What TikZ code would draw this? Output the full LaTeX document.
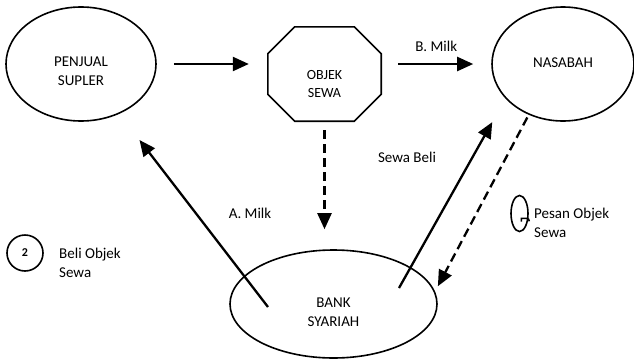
\documentclass[tikz,border=0pt]{standalone}
\usepackage{fontspec}
\setmainfont{Carlito}
\usepackage{tikz}
\usetikzlibrary{shapes.geometric, arrows.meta, calc}
\tikzstyle{line} = [draw, -{Triangle[length=16pt,width=14pt]}, line width=2.3pt]
\tikzstyle{dline} = [line, dash pattern=on 9pt off 5pt]
\tikzstyle{party} = [ellipse, draw, line width=1.6pt, inner sep=0pt]
\tikzstyle{txt} = [align=center, inner sep=0pt, font=\fontsize{15}{19}\selectfont]

\begin{document}
\begin{tikzpicture}[x=1pt, y=1pt, auto]
        \useasboundingbox (0,0) rectangle (634,360);

        \node [party, minimum width=150pt, minimum height=114pt,
               label={[txt, name=pentxt, yshift=-7pt]center:PENJUAL\\SUPLER}] (pen) at (81,296) {};
        \node [rectangle, minimum width=113pt, minimum height=94pt, inner sep=0pt,
               label={[txt, name=objektxt, yshift=-10pt, font=\fontsize{14}{18}\selectfont]center:OBJEK\\SEWA}] (objek) at (324.5,286) {};
        \node [party, minimum width=142pt, minimum height=114pt,
               label={[txt, name=nastxt, yshift=1pt]center:NASABAH}] (nas) at (563,296) {};
        \node [party, minimum width=207pt, minimum height=108pt,
               label={[txt, name=banktxt, yshift=-8pt]center:BANK\\SYARIAH}] (bank) at (333.5,56) {};

        % octagon round OBJEK SEWA
        \draw [line width=1.6pt, line join=miter]
            ($(objek.north west)+(27,0)$) -- ($(objek.north east)+(-27,0)$) -- ($(objek.north east)+(0,-27)$)
            -- ($(objek.south east)+(0,27)$) -- ($(objek.south east)+(-27,0)$) -- ($(objek.south west)+(27,0)$)
            -- ($(objek.south west)+(0,27)$) -- ($(objek.north west)+(0,-27)$) -- cycle;

        % free ends inside the bank
        \coordinate (amilk) at (268,53);
        \coordinate (sbeli) at (399,72);

        \path [line, shorten <=17pt, shorten >=19pt] (pen.east) -- (pen.east -| objek.west);
        \path [line, shorten <=17pt, shorten >=18pt] (objek.east |- nas.west) -- node[above=8pt] {\fontsize{15}{19}\selectfont B. Milk} (nas.west);
        \path [dline, shorten <=9pt, shorten >=20pt] (objek.south) -- (objek.south |- bank.north);
        \path [line, shorten >=33pt] (amilk) -- (pen);
        \path [line, shorten >=27pt] (sbeli) -- (nas.211);
        \path [dline, shorten <=3pt, shorten >=6pt] (nas.236) -- (bank.7);

        \node [txt] (amilktxt) at (250,147) {A. Milk};
        \node [txt] (sbelitxt) at (407,203) {Sewa Beli};

        % keterangan
        \node [circle, draw, line width=1.6pt, minimum size=36pt, inner sep=0pt,
               font=\bfseries\fontsize{12}{14}\selectfont] (two) at (25,107) {2};
        \node [txt, align=left, anchor=west] (beli) at (59,97.5) {Beli Objek\\Sewa};
        \node [ellipse, draw, line width=1.6pt, minimum width=17pt, minimum height=36pt, inner sep=0pt] (pesan) at (519.5,146.5) {};
        \draw [line width=1.6pt] ($(pesan.center)+(1.8,-8.2)$) -- ++(0,3.4) -- ++(5.5,0) to[out=0, in=90] ++(2.5,-3);
        \node [txt, align=left, anchor=west] (pesantxt) at (534,137.5) {Pesan Objek\\Sewa};
    \end{tikzpicture}
\end{document}
